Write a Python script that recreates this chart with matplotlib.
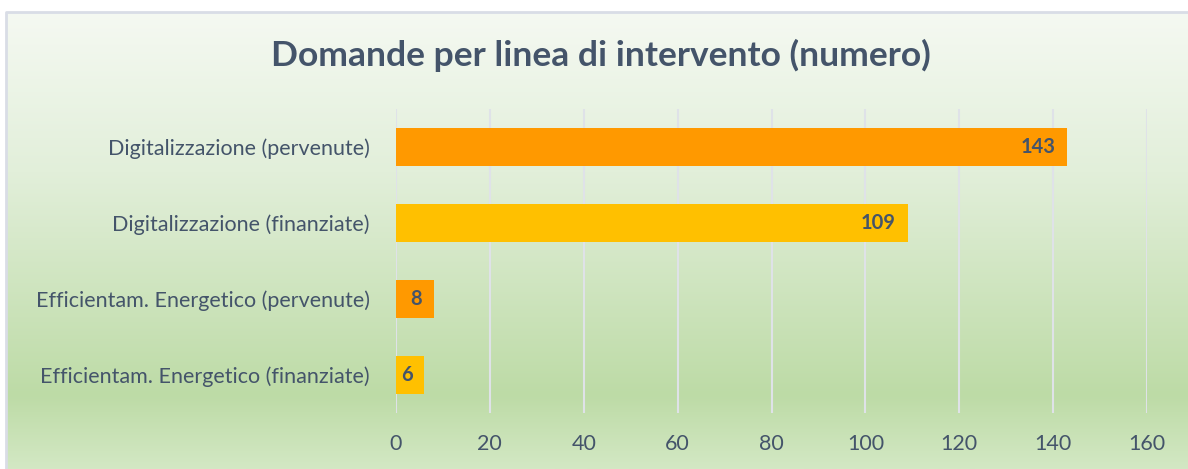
import numpy as np
import matplotlib.pyplot as plt
from matplotlib.colors import LinearSegmentedColormap

# data
categories = ["Digitalizzazione (pervenute)", "Digitalizzazione (finanziate)",
              "Efficientam. Energetico (pervenute)", "Efficientam. Energetico (finanziate)"]
values = [143, 109, 8, 6]
bar_colors = ["#ff9900", "#ffc000", "#ff9900", "#ffc000"]
x_ticks = [0, 20, 40, 60, 80, 100, 120, 140, 160]

TEXT = "#44546a"
W, H = 1188, 469
plt.rcParams["font.family"] = ["Lato", "DejaVu Sans"]

fig = plt.figure(figsize=(W / 100, H / 100), dpi=100)
fig.patch.set_facecolor("white")

# gradient background (chart area box)
bg = fig.add_axes([6 / W, 0, 1 - 6 / W, 1 - 12 / H])
bg.set_axis_off()
grad = LinearSegmentedColormap.from_list(
    "g", [(0.0, "#f5f9f2"), (0.35, "#e2efda"), (0.84, "#bddba6"), (1.0, "#d3e8c4")])
bg.imshow(np.linspace(0, 1, 256).reshape(-1, 1), aspect="auto", cmap=grad,
          extent=[0, 1, 0, 1], origin="upper")
bg.set_xlim(0, 1)
bg.set_ylim(0, 1)
bg.plot([0, 0, 1], [0, 1, 1], color="#d9dde6", lw=2, transform=bg.transAxes, clip_on=False)

ax = fig.add_axes([396 / W, 56 / H, (1147 - 396) / W, (413 - 109) / H])
ax.patch.set_alpha(0)
y = np.arange(len(categories))
ax.barh(y, values, height=0.5, color=bar_colors, zorder=3)
ax.set_ylim(len(categories) - 0.5, -0.5)
ax.set_xlim(0, 160)
ax.set_xticks(x_ticks)
ax.set_yticks(y)
ax.set_yticklabels(categories)
ax.tick_params(length=0, colors=TEXT, labelsize=15.5)
ax.tick_params(axis="x", pad=15)
ax.tick_params(axis="y", pad=19)
for t in ax.get_xticklabels() + ax.get_yticklabels():
    t.set_color(TEXT)
ax.grid(axis="x", color="#dfe2e8", lw=1.5, zorder=1)
for s in ax.spines.values():
    s.set_visible(False)

for yi, v in zip(y, values):
    ax.text(v - 2.5, yi, str(v), ha="right", va="center", color=TEXT,
            fontsize=14.5, fontweight="bold", zorder=4)

fig.text(0.506, 0.882, "Domande per linea di intervento (numero)", ha="center", va="center",
         fontsize=25.5, fontweight="bold", color=TEXT)

fig.savefig("out.png", dpi=100)
